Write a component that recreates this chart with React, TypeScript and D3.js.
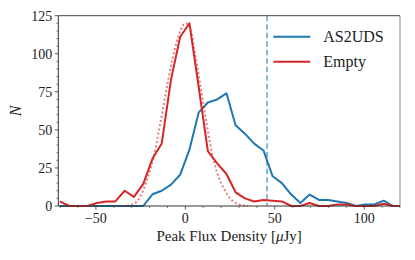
import React from "react";
import * as d3 from "d3";

// bin centres (µJy) of the two histograms
const binCentres = [
  -70.1, -64.9, -59.7, -54.6, -49.4, -44.2, -39.1, -33.9, -28.7, -23.5,
  -18.4, -13.2, -8.0, -2.9, 2.3, 7.5, 12.6, 17.8, 23.0, 28.1,
  33.3, 38.5, 43.7, 48.8, 54.0, 59.2, 64.3, 69.5, 74.7, 79.9,
  85.0, 90.2, 95.4, 100.5, 105.7, 110.9, 116.0, 121.2,
];

const as2udsCounts = [
  0, 0, 0, 0, 0, 0, 0, 0, 0, 0,
  7.7, 10, 14, 20.5, 37, 61.5, 68, 70, 74, 53,
  47.5, 41, 36.5, 19.5, 15, 7.5, 2, 7.5, 4, 4,
  3, 2, 0, 1, 1, 3.5, 0, 0,
];

const emptyCounts = [
  3, 0, 0, 0, 2, 3, 3, 10, 6, 14.5,
  31, 41, 83, 111, 120, 78, 36, 28, 21, 9,
  5, 3, 4, 3.5, 3, 0, 0, 2, 0, 0,
  1, 1, 0, 0, 0, 1.5, 0, 0,
];

// gaussian fit to the empty-aperture histogram
const fitX = [
  -35, -32.5, -30, -27.5, -25, -22.5, -20, -17.5, -15, -12.5, -10, -7.5, -5, -2.5,
  0, 2.5, 5, 7.5, 10, 12.5, 15, 17.5, 20, 22.5, 25, 27.5, 30, 32.5, 35,
];
const fitY = [
  0, 0.2, 0.8, 2.5, 6.5, 13.5, 22.5, 33, 48, 64, 80, 95, 107, 116,
  120, 118, 103, 86, 68, 50, 34, 23, 15, 9.5, 5, 2.5, 1, 0.3, 0,
];

const detectionLimit = 45.7;

const xTicks = [-50, 0, 50, 100];
const yTicks = [0, 25, 50, 75, 100, 125];

const seriesNames = ["AS2UDS", "Empty"];

const BLUE = "#1f77b4";
const RED = "#d62728";
const txt = { fontFamily: "'Liberation Serif', 'Times New Roman', Times, 'DejaVu Serif', serif" };

export default function App() {
  const width = 415;
  const height = 260;
  const margin = { top: 15.7, right: 15, bottom: 54, left: 58.3 };
  const innerW = width - margin.left - margin.right;
  const innerH = height - margin.top - margin.bottom;

  const x = d3.scaleLinear().domain([-71, 120]).range([0, innerW]);
  const y = d3.scaleLinear().domain([0, 125]).range([innerH, 0]);

  const line = d3
    .line<[number, number]>()
    .x((d) => x(d[0]))
    .y((d) => y(d[1]));

  const fitLine = d3
    .line<[number, number]>()
    .x((d) => x(d[0]))
    .y((d) => y(d[1]))
    .curve(d3.curveMonotoneX);

  const blueData = binCentres.map((b, i) => [b, as2udsCounts[i]] as [number, number]);
  const redData = binCentres.map((b, i) => [b, emptyCounts[i]] as [number, number]);
  const fitData = fitX.map((b, i) => [b, fitY[i]] as [number, number]);

  const xMinor = d3.range(-70, 121, 10).filter((v) => !xTicks.includes(v));
  const yMinor = d3.range(0, 126, 5).filter((v) => !yTicks.includes(v));

  return (
    <svg
      width={width}
      height={height}
      style={{ position: "absolute", left: 0, top: 0, background: "#fff" }}
    >
      <defs>
        <clipPath id="plot-clip">
          <rect x={0} y={-2} width={innerW} height={innerH + 4} />
        </clipPath>
      </defs>
      <g transform={`translate(${margin.left},${margin.top})`}>
        {/* data */}
        <g clipPath="url(#plot-clip)">
          <line
            x1={x(detectionLimit)}
            x2={x(detectionLimit)}
            y1={0}
            y2={innerH}
            stroke={BLUE}
            strokeOpacity={0.7}
            strokeWidth={1.5}
            strokeDasharray="5.5,3"
          />
          <path d={line(blueData) || ""} fill="none" stroke={BLUE} strokeWidth={2} strokeLinejoin="round" />
          <path d={line(redData) || ""} fill="none" stroke={RED} strokeWidth={2} strokeLinejoin="round" />
          <path
            d={fitLine(fitData) || ""}
            fill="none"
            stroke={RED}
            strokeOpacity={0.6}
            strokeWidth={2}
            strokeDasharray="2,2.3"
          />
        </g>

        {/* spines */}
        <line x1={0} x2={innerW} y1={0} y2={0} stroke="#444" strokeWidth={1} />
        <line x1={innerW} x2={innerW} y1={0} y2={innerH} stroke="#888" strokeWidth={1} />
        <line x1={0} x2={0} y1={0} y2={innerH} stroke="#333" strokeWidth={1} />
        <line x1={0} x2={innerW} y1={innerH} y2={innerH} stroke="#333" strokeWidth={1} />

        {/* x ticks */}
        {xMinor.map((v) => (
          <line key={"xm" + v} x1={x(v)} x2={x(v)} y1={innerH} y2={innerH + 2} stroke="#333" strokeWidth={0.6} />
        ))}
        {xTicks.map((v) => (
          <g key={"x" + v} transform={`translate(${x(v)},${innerH})`}>
            <line y1={0} y2={3.5} stroke="#333" strokeWidth={0.8} />
            <text y={16.5} textAnchor="middle" fontSize={14} fill="#222" style={txt}>
              {v < 0 ? "\u2212" + Math.abs(v) : v}
            </text>
          </g>
        ))}

        {/* y ticks */}
        {yMinor.map((v) => (
          <line key={"ym" + v} x1={-2} x2={0} y1={y(v)} y2={y(v)} stroke="#333" strokeWidth={0.6} />
        ))}
        {yTicks.map((v) => (
          <g key={"y" + v} transform={`translate(0,${y(v)})`}>
            <line x1={-3.5} x2={0} stroke="#333" strokeWidth={0.8} />
            <text x={-6} dy="0.35em" textAnchor="end" fontSize={14} fill="#222" style={txt}>
              {v}
            </text>
          </g>
        ))}

        {/* axis labels */}
        <text x={innerW / 2} y={innerH + 35.5} textAnchor="middle" fontSize={15} fill="#222" style={txt}>
          Peak Flux Density [<tspan fontStyle="italic">μ</tspan>Jy]
        </text>
        <text
          transform={`translate(${-37},${innerH / 2}) rotate(-90)`}
          textAnchor="middle"
          fontSize={16}
          fontStyle="italic"
          fill="#222"
          style={txt}
        >
          N
        </text>

        {/* legend */}
        {seriesNames.map((name, i) => (
          <g key={name} transform={`translate(${215},${21 + i * 25})`}>
            <line x1={0} x2={37} y1={0} y2={0} stroke={i === 0 ? BLUE : RED} strokeWidth={2} />
            <text x={50} dy="0.35em" fontSize={16} fill="#222" style={txt}>
              {name}
            </text>
          </g>
        ))}
      </g>
    </svg>
  );
}
